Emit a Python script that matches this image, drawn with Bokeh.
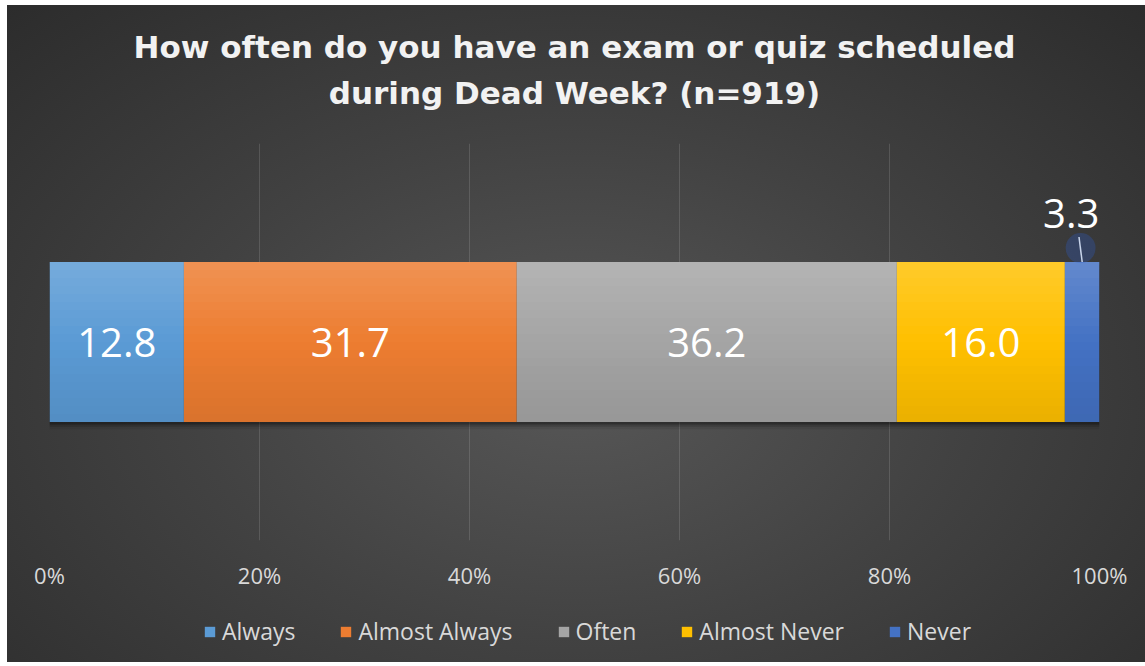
from bokeh.plotting import figure
from bokeh.layouts import column
from bokeh.models import ColumnDataSource, FixedTicker, Legend, LegendItem, Range1d, Title
from bokeh.core.properties import value
from bokeh.embed import file_html
from bokeh.resources import INLINE

title_lines = ["How often do you have an exam or quiz scheduled", "during Dead Week? (n=919)"]
categories = ["Always", "Almost Always", "Often", "Almost Never", "Never"]
values = [12.8, 31.7, 36.2, 16.0, 3.3]
colors = ["#5B9BD5", "#ED7D31", "#A5A5A5", "#FFC000", "#4472C4"]
ticks = [0, 20, 40, 60, 80, 100]
tick_labels = ["0%", "20%", "40%", "60%", "80%", "100%"]

lefts, rights = [], []
acc = 0.0
for v in values:
    lefts.append(acc)
    acc += v
    rights.append(acc)
mids = [(l + r) / 2 for l, r in zip(lefts, rights)]
labels = [f"{v:.1f}" for v in values]

BAR_Y = 0.5
BAR_H = 0.403
W = 1138

p = figure(width=W, height=595, output_backend="svg", toolbar_location=None,
           x_range=Range1d(0, 100), y_range=Range1d(0, 1),
           min_border_left=42, min_border_right=46, min_border_top=138, min_border_bottom=60)
p.border_fill_color = None
p.background_fill_color = None
p.outline_line_color = None
p.title.visible = False

# spacer between plot area and the title lines
p.add_layout(Title(text=" ", text_font_size="8px", standoff=22), "above")
standoffs = [16, 0]
for txt, so in reversed(list(zip(title_lines, standoffs))):
    t = Title(text=txt, align="center", text_color="#f2f2f2", text_font="DejaVu Sans",
              text_font_style="bold", text_font_size="31px", standoff=so)
    p.add_layout(t, "above")

# soft shadow under the bar
for k, a in enumerate([0.25, 0.15, 0.08]):
    p.hbar(y=BAR_Y - 0.006 * (k + 1), left=0, right=acc, height=BAR_H, fill_color="black",
           fill_alpha=a, line_color=None)

renderers = []
for i, c in enumerate(categories):
    r = p.hbar(y=BAR_Y, left=lefts[i], right=rights[i], height=BAR_H,
               fill_color=colors[i], line_color=None)
    renderers.append(r)

# vertical shading to mimic the gradient fill of the bars
n = 20
for k in range(n):
    f = k / (n - 1)  # 0 bottom -> 1 top
    y0 = BAR_Y - BAR_H / 2 + BAR_H * k / n
    yc = y0 + BAR_H / n / 2
    if f >= 0.5:
        col, a = "white", (f - 0.5) * 0.32
    else:
        col, a = "black", (0.5 - f) * 0.16
    p.hbar(y=yc, left=0, right=acc, height=BAR_H / n, fill_color=col, fill_alpha=a,
           line_color=None)

inside = ColumnDataSource(dict(x=mids[:-1], y=[BAR_Y] * (len(values) - 1), t=labels[:-1]))
p.text(x="x", y="y", text="t", source=inside, text_align="center", text_baseline="middle",
       text_color="white", text_font=value("Open Sans"), text_font_size="40px")

top = BAR_Y + BAR_H / 2
p.scatter(x=[mids[-1] - 0.15], y=[top + 0.035], size=30, fill_color="#2e5ec8",
          fill_alpha=0.3, line_color=None)
p.segment(x0=[mids[-1]], y0=[top], x1=[mids[-1] - 0.3], y1=[top + 0.063],
          line_color="#c8d4ea", line_width=1.5)
p.text(x=[mids[-1]], y=[top + 0.085], text=[labels[-1]], x_offset=-11,
       text_align="center", text_baseline="bottom",
       text_color="white", text_font=value("Open Sans"), text_font_size="40px")

p.yaxis.visible = False
xa = p.xaxis[0]
xa.ticker = FixedTicker(ticks=ticks)
xa.major_label_overrides = {t: l for t, l in zip(ticks, tick_labels)}
xa.axis_line_color = None
xa.major_tick_line_color = None
xa.minor_tick_line_color = None
xa.major_label_text_color = "#d9d9d9"
xa.major_label_text_font = "Open Sans"
xa.major_label_text_font_size = "22px"
xa.major_label_standoff = 13

p.xgrid.ticker = FixedTicker(ticks=ticks)
p.xgrid.grid_line_color = "#ffffff"
p.xgrid.grid_line_alpha = 0.13
p.ygrid.grid_line_color = None

# legend in its own strip below the chart
lg = figure(width=W, height=62, output_backend="svg", toolbar_location=None,
            x_range=Range1d(0, 100), y_range=Range1d(10, 11), min_border=0)
lg.border_fill_color = None
lg.background_fill_color = None
lg.outline_line_color = None
lg.axis.visible = False
lg.grid.visible = False
lrs = []
for i, c in enumerate(categories):
    lrs.append(lg.hbar(y=BAR_Y, left=lefts[i], right=rights[i], height=BAR_H,
                       fill_color=colors[i], line_color=None))
legend = Legend(items=[LegendItem(label=c, renderers=[r]) for c, r in zip(categories, lrs)],
                orientation="horizontal", location=(154, 15))
legend.label_text_color = "#d9d9d9"
legend.label_text_font = "Open Sans"
legend.label_text_font_size = "23px"
legend.glyph_width = 13
legend.glyph_height = 13
legend.spacing = 44
legend.label_standoff = 6
legend.background_fill_alpha = 0
legend.border_line_color = None
legend.padding = 0
legend.margin = 0
lg.add_layout(legend, "center")

root = column(p, lg, spacing=0, margin=(5, 0, 0, 7))
root.styles = {"background": "radial-gradient(ellipse 75% 85% at 50% 58%, #575757 0%, #424242 45%, #2a2a2a 100%)"}

open("out.html", "w").write(file_html(root, INLINE))
